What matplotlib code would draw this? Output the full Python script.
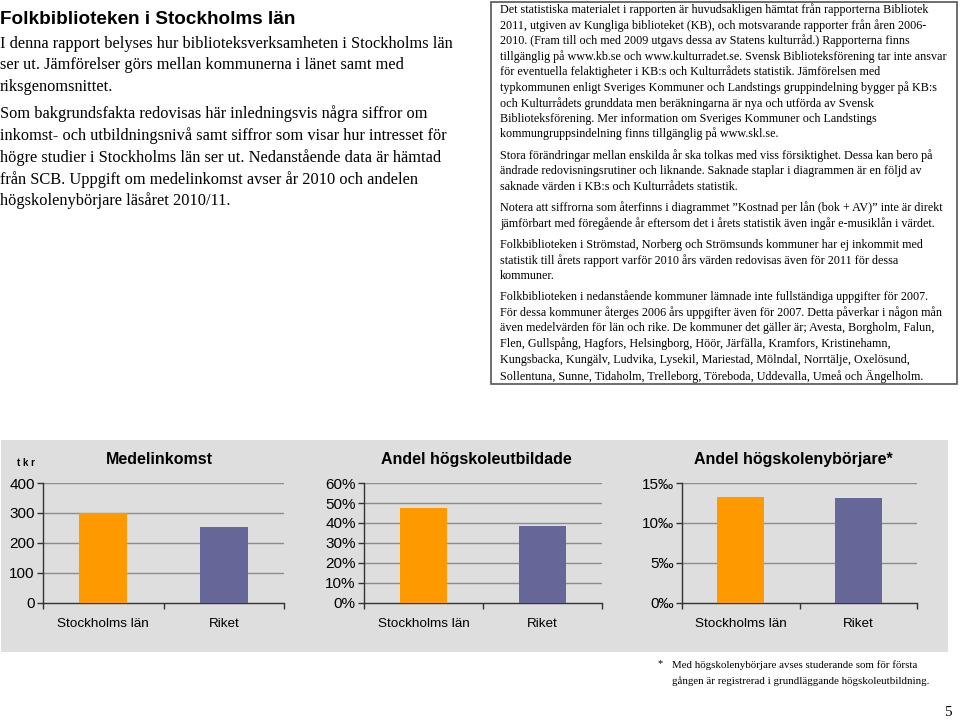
import matplotlib
matplotlib.use('Agg')
from matplotlib import pyplot as plt
from matplotlib.patches import Rectangle
from matplotlib.ticker import FuncFormatter

# Data
categories = ['Stockholms län', 'Riket']
income = [300, 255]            # tkr
higher_edu = [0.475, 0.385]    # andel
new_students = [13.25, 13.1]   # promille

bar_colors = ['#FF9900', '#666699']

W, H = 960, 720
fig = plt.figure(figsize=(9.6, 7.2), dpi=100)
fig.patch.set_facecolor('white')


def fx(x):
    return x / W


def fy(y):
    return 1 - y / H


serif = 'Liberation Serif'
sans = 'Liberation Sans'

# Top left text
fig.text(fx(0), fy(20), 'Folkbiblioteken i Stockholms län', family=sans,
         weight='bold', fontsize=13.6, va='center', ha='left')
left_lines = [
    (44, 'I denna rapport belyses hur biblioteksverksamheten i Stockholms län'),
    (65, 'ser ut. Jämförelser görs mellan kommunerna i länet samt med'),
    (87, 'riksgenomsnittet.'),
    (114, 'Som bakgrundsfakta redovisas här inledningsvis några siffror om'),
    (136, 'inkomst- och utbildningsnivå samt siffror som visar hur intresset för'),
    (158, 'högre studier i Stockholms län ser ut. Nedanstående data är hämtad'),
    (180, 'från SCB. Uppgift om medelinkomst avser år 2010 och andelen'),
    (201, 'högskolenybörjare läsåret 2010/11.'),
]
for y, line in left_lines:
    fig.text(fx(0), fy(y), line, family=serif, fontsize=11.75, va='center', ha='left')

# Right info box
fig.patches.append(Rectangle((fx(491), fy(384)), fx(957 - 491), (384 - 2) / H,
                             transform=fig.transFigure, facecolor='white',
                             edgecolor='#555555', linewidth=1.2, zorder=-5))
box_lines = [
    (10, 'Det statistiska materialet i rapporten är huvudsakligen hämtat från rapporterna Bibliotek'),
    (26, '2011, utgiven av Kungliga biblioteket (KB), och motsvarande rapporter från åren 2006-'),
    (41, '2010. (Fram till och med 2009 utgavs dessa av Statens kulturråd.) Rapporterna finns'),
    (57, 'tillgänglig på www.kb.se och www.kulturradet.se. Svensk Biblioteksförening tar inte ansvar'),
    (72, 'för eventuella felaktigheter i KB:s och Kulturrådets statistik. Jämförelsen med'),
    (88, 'typkommunen enligt Sveriges Kommuner och Landstings gruppindelning bygger på KB:s'),
    (104, 'och Kulturrådets grunddata men beräkningarna är nya och utförda av Svensk'),
    (119, 'Biblioteksförening. Mer information om Sveriges Kommuner och Landstings'),
    (134, 'kommungruppsindelning finns tillgänglig på www.skl.se.'),
    (156, 'Stora förändringar mellan enskilda år ska tolkas med viss försiktighet. Dessa kan bero på'),
    (171, 'ändrade redovisningsrutiner och liknande. Saknade staplar i diagrammen är en följd av'),
    (187, 'saknade värden i KB:s och Kulturrådets statistik.'),
    (208, 'Notera att siffrorna som återfinns i diagrammet ”Kostnad per lån (bok + AV)” inte är direkt'),
    (224, 'jämförbart med föregående år eftersom det i årets statistik även ingår e-musiklån i värdet.'),
    (245, 'Folkbiblioteken i Strömstad, Norberg och Strömsunds kommuner har ej inkommit med'),
    (261, 'statistik till årets rapport varför 2010 års värden redovisas även för 2011 för dessa'),
    (276, 'kommuner.'),
    (297, 'Folkbiblioteken i nedanstående kommuner lämnade inte fullständiga uppgifter för 2007.'),
    (313, 'För dessa kommuner återges 2006 års uppgifter även för 2007. Detta påverkar i någon mån'),
    (328, 'även medelvärden för län och rike. De kommuner det gäller är; Avesta, Borgholm, Falun,'),
    (344, 'Flen, Gullspång, Hagfors, Helsingborg, Höör, Järfälla, Kramfors, Kristinehamn,'),
    (360, 'Kungsbacka, Kungälv, Ludvika, Lysekil, Mariestad, Mölndal, Norrtälje, Oxelösund,'),
    (376, 'Sollentuna, Sunne, Tidaholm, Trelleborg, Töreboda, Uddevalla, Umeå och Ängelholm.'),
]
for y, line in box_lines:
    fig.text(fx(500), fy(y), line, family=serif, fontsize=8.75, va='center', ha='left')

# Gray chart band
fig.patches.append(Rectangle((fx(1), fy(652)), fx(948 - 1), (652 - 440) / H,
                             transform=fig.transFigure, facecolor='#dedede',
                             edgecolor='none', zorder=-5))


def bar_chart(left, right, values, ylim, yticks, fmt, title, title_x):
    ax = fig.add_axes([fx(left), fy(603), fx(right - left), (603 - 483) / H])
    ax.set_facecolor('none')
    x = range(len(values))
    ax.bar(x, values, width=0.4, color=bar_colors, zorder=3)
    ax.set_xlim(-0.5, 1.5)
    ax.set_ylim(*ylim)
    ax.set_yticks(yticks)
    ax.yaxis.set_major_formatter(FuncFormatter(fmt))
    for t in yticks[1:]:
        ax.axhline(t, color='#8c8c8c', linewidth=1, zorder=1)
    ax.set_xticks([-0.5, 0.5, 1.5])
    ax.set_xticklabels([])
    ax.set_xticks([0, 1], minor=True)
    ax.set_xticklabels(categories, minor=True, family=sans, fontsize=9.7)
    ax.tick_params(axis='x', which='minor', length=0, pad=11)
    ax.tick_params(axis='x', which='major', length=4, width=1, color='#333333', direction='out')
    ax.tick_params(axis='y', length=4, width=1, color='#333333', direction='out',
                   labelsize=11, pad=2)
    for lab in ax.get_yticklabels():
        lab.set_family(sans)
    for side in ['top', 'right']:
        ax.spines[side].set_visible(False)
    for side in ['left', 'bottom']:
        ax.spines[side].set_color('#333333')
        ax.spines[side].set_linewidth(1)
    fig.text(fx(title_x), fy(460), title, family=sans, weight='bold',
             fontsize=11.5, ha='center', va='center')
    return ax


bar_chart(43, 284, income, (0, 400), [0, 100, 200, 300, 400],
          lambda v, p: f'{v:.0f}', 'Medelinkomst', 159)
fig.text(fx(26), fy(463), 't k r', family=sans, weight='bold', fontsize=7,
         ha='center', va='center')
bar_chart(364, 602, higher_edu, (0, 0.6), [0, 0.1, 0.2, 0.3, 0.4, 0.5, 0.6],
          lambda v, p: f'{v * 100:.0f}%', 'Andel högskoleutbildade', 476)
bar_chart(682, 917, new_students, (0, 15), [0, 5, 10, 15],
          lambda v, p: f'{v:.0f}‰', 'Andel högskolenybörjare*', 793)

# Footnote and page number
fig.text(fx(660), fy(664), '*', family=serif, fontsize=7.5, ha='center', va='center')
fig.text(fx(672), fy(665), 'Med högskolenybörjare avses studerande som för första',
         family=serif, fontsize=7.8, ha='left', va='center')
fig.text(fx(672), fy(681), 'gången är registrerad i grundläggande högskoleutbildning.',
         family=serif, fontsize=7.8, ha='left', va='center')
fig.text(fx(952), fy(713), '5', family=serif, fontsize=11, ha='right', va='center')

plt.savefig('out.png', dpi=100)
